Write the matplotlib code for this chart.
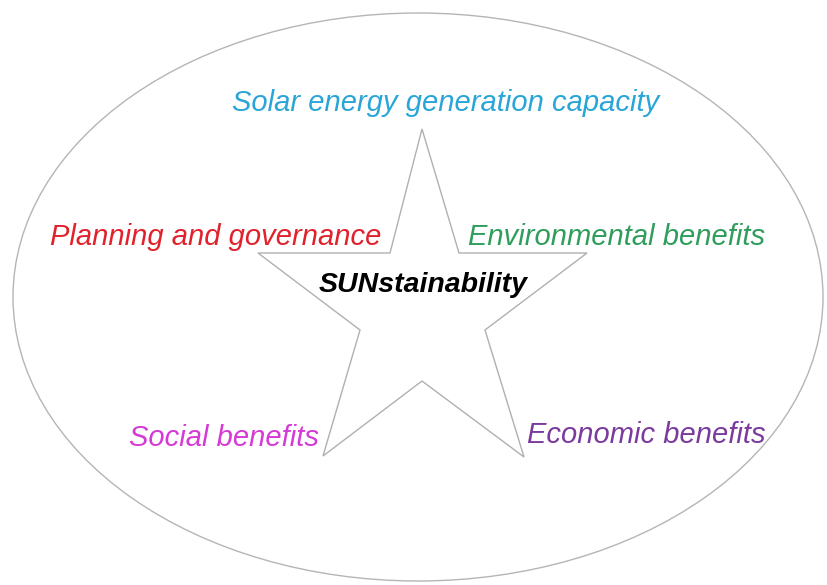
import matplotlib
matplotlib.use("Agg")
from matplotlib import pyplot as plt
from matplotlib.patches import Ellipse, Polygon

# Star outline (pixel coordinates of the picture)
star_x = [422, 459, 587, 485, 524, 422, 323, 360, 258, 390]
star_y = [129, 253, 253, 330, 457, 381, 456, 330, 253, 253]

# Labels round the star
labels = ["Solar energy generation capacity", "Planning and governance",
          "Environmental benefits", "Social benefits", "Economic benefits"]
label_x = [446, 216, 617, 224, 646]
label_y = [103, 237, 237, 438, 435]
label_colors = ["#2aa5d8", "#e0222c", "#2f9d5c", "#d63ad6", "#7b3b9e"]

plt.rcParams['font.family'] = ['Liberation Sans', 'DejaVu Sans']

fig = plt.figure(figsize=(8.27, 5.85), dpi=100)
ax = fig.add_axes([0, 0, 1, 1])
ax.set_xlim(0, 827)
ax.set_ylim(585, 0)
ax.axis('off')

ax.add_patch(Ellipse((418, 297), 810, 568, fill=False, edgecolor='#b5b5b5', linewidth=1))
ax.add_patch(Polygon(list(zip(star_x, star_y)), closed=True, fill=False,
                     edgecolor='#b0b0b0', linewidth=1))

for txt, x, y, c in zip(labels, label_x, label_y, label_colors):
    ax.text(x, y, txt, color=c, fontsize=21, style='italic', ha='center', va='center')

ax.text(423, 285, "SUNstainability", color='black', fontsize=20.5, style='italic',
        weight='bold', ha='center', va='center')

fig.savefig("out.png", dpi=100)
